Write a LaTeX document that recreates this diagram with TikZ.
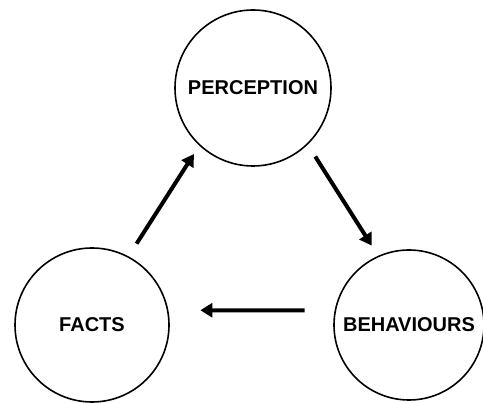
\documentclass[tikz,border=0pt]{standalone}
\usepackage{fontspec}
\setmainfont{Liberation Sans}
\usetikzlibrary{arrows.meta}
\begin{document}
\begin{tikzpicture}[x=1pt,y=-1pt,
  bubble/.style={circle,draw=black,line width=1.6pt,inner sep=0pt,fill=white,
    font=\fontsize{20}{24}\selectfont\bfseries},
  arr/.style={line width=4pt,-{Triangle[length=12pt,width=14pt]}}]
\useasboundingbox (0,0) rectangle (483,403);
\clip (0,0) rectangle (483,403);
\fill[white] (0,0) rectangle (483,403);
\node[bubble,minimum size=156pt] (p) at (253,88) {PERCEPTION};
\node[bubble,minimum size=154pt] (f) at (92,325) {FACTS};
\node[bubble,minimum size=150pt] (b) at (409,325) {BEHAVIOURS};
\draw[arr,shorten <=15pt,shorten >=10pt] (f.62) -- (p.227);
\draw[arr,shorten <=14pt,shorten >=12pt] (p.314) -- (b.114);
\draw[arr,shorten <=30pt,shorten >=32pt] (b.169) -- (f.11);
\end{tikzpicture}
\end{document}
